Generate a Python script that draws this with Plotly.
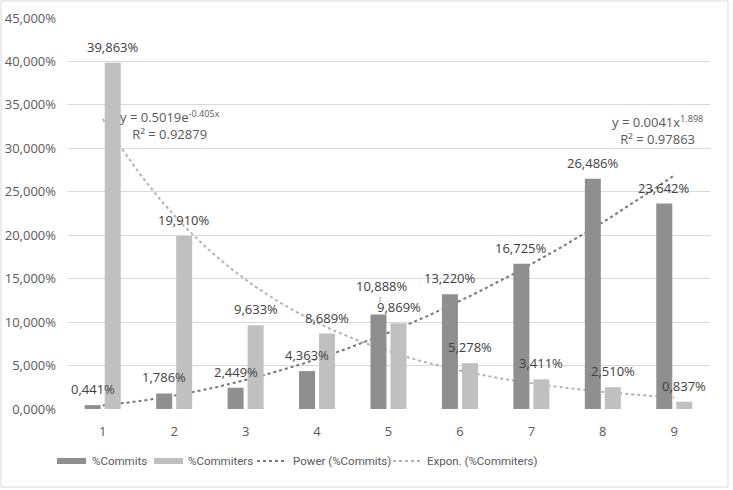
import numpy as np
import plotly.graph_objects as go

# ---------------- data ----------------
categories = [1, 2, 3, 4, 5, 6, 7, 8, 9]
commits = [0.441, 1.786, 2.449, 4.363, 10.888, 13.220, 16.725, 26.486, 23.642]
commiters = [39.863, 19.910, 9.633, 8.689, 9.869, 5.278, 3.411, 2.510, 0.837]
series_names = ["%Commits", "%Commiters", "Power (%Commits)", "Expon. (%Commiters)"]
power_eq = "y = 0.0041x<sup>1.898</sup><br>R² = 0.97863"
expon_eq = "y = 0.5019e<sup>-0.405x</sup><br>R² = 0.92879"

# ---------------- styles ----------------
DARK = "#8f8f8f"
LIGHT = "#c0c0c0"
POWER_C = "#767676"
EXPON_C = "#b3b3b3"
TXT = "#404040"
AX_TXT = "#595959"
GRID = "#d9d9d9"
FONT = "Open Sans"
LEG_FONT = "Roboto"
BARGAP = 0.44
BARGROUPGAP = 0.2

# trendlines fitted from the data (as the spreadsheet does)
x = np.array(categories, dtype=float)
pb, pa = np.polyfit(np.log(x), np.log(np.array(commits) / 100), 1)
ek, ea = np.polyfit(x, np.log(np.array(commiters) / 100), 1)
xs = np.linspace(x.min(), x.max(), 200)
power_curve = np.exp(pa) * xs ** pb * 100
expon_curve = np.exp(ea) * np.exp(ek * xs) * 100

fig = go.Figure()
fig.add_trace(go.Scatter(x=xs, y=power_curve, mode="lines", name=series_names[2],
                         line=dict(color=POWER_C, width=2, dash="dot"), zorder=0))
fig.add_trace(go.Scatter(x=xs, y=expon_curve, mode="lines", name=series_names[3],
                         line=dict(color=EXPON_C, width=2, dash="dot"), zorder=0))
fig.add_trace(go.Bar(x=categories, y=commits, name=series_names[0],
                     marker=dict(color=DARK, line=dict(width=0)), zorder=1))
fig.add_trace(go.Bar(x=categories, y=commiters, name=series_names[1],
                     marker=dict(color=LIGHT, line=dict(width=0)), zorder=1))

def fmt(v):
    return f"{v:.3f}".replace(".", ",") + "%"

off = (1 - BARGAP) / 4
annotations = []
for c, v in zip(categories, commits):
    if c == 5:
        annotations.append(dict(x=c - off, y=v, xref="x", yref="y", text=fmt(v),
                                showarrow=True, arrowhead=0, arrowwidth=1,
                                arrowcolor="#a6a6a6", ax=3, ay=-28, standoff=12,
                                font=dict(family=FONT, size=13, color=TXT)))
    else:
        annotations.append(dict(x=c - off, y=v, xref="x", yref="y", text=fmt(v),
                                showarrow=False, yanchor="middle", yshift=16,
                                font=dict(family=FONT, size=13, color=TXT)))
for c, v in zip(categories, commiters):
    annotations.append(dict(x=c + off, y=v, xref="x", yref="y", text=fmt(v),
                            showarrow=False, yanchor="middle", yshift=16,
                            font=dict(family=FONT, size=13, color=TXT)))

# trendline equations
annotations.append(dict(x=0.1602, y=0.7263, xref="paper", yref="paper", text=expon_eq,
                        showarrow=False, align="center", xanchor="center", yanchor="middle",
                        font=dict(family=FONT, size=13, color=AX_TXT)))
annotations.append(dict(x=0.9191, y=0.7148, xref="paper", yref="paper", text=power_eq,
                        showarrow=False, align="center", xanchor="center", yanchor="middle",
                        font=dict(family=FONT, size=13, color=AX_TXT)))

# ---------------- manual legend ----------------
L, PW, T, PH = 67, 643, 18, 391
def px(xp):
    return (xp - L) / PW
def py(yp):
    return (T + PH - yp) / PH

leg_y = 461
shapes = []
shapes.append(dict(type="rect", xref="paper", yref="paper", x0=px(57), x1=px(86),
                   y0=py(leg_y + 3), y1=py(leg_y - 3), fillcolor=DARK, line=dict(width=0)))
shapes.append(dict(type="rect", xref="paper", yref="paper", x0=px(154), x1=px(183),
                   y0=py(leg_y + 3), y1=py(leg_y - 3), fillcolor=LIGHT, line=dict(width=0)))
shapes.append(dict(type="line", xref="paper", yref="paper", x0=px(257), x1=px(285),
                   y0=py(leg_y), y1=py(leg_y), line=dict(color=POWER_C, width=2, dash="dot")))
shapes.append(dict(type="line", xref="paper", yref="paper", x0=px(393), x1=px(421),
                   y0=py(leg_y), y1=py(leg_y), line=dict(color=EXPON_C, width=2, dash="dot")))
for name, xt in zip(series_names, [90, 186, 291, 425]):
    annotations.append(dict(x=px(xt), y=py(leg_y), xref="paper", yref="paper", text=name,
                            showarrow=False, xanchor="left", yanchor="middle",
                            font=dict(family=LEG_FONT, size=11.5, color=AX_TXT)))

# chart-area border
shapes.append(dict(type="rect", xref="paper", yref="paper", x0=px(1), x1=px(728),
                   y0=py(487), y1=py(1), line=dict(color=GRID, width=1), fillcolor="rgba(0,0,0,0)",
                   layer="below"))

fig.update_layout(
    width=733, height=490,
    margin=dict(l=67, r=23, t=18, b=81, autoexpand=False),
    paper_bgcolor="white", plot_bgcolor="white",
    barmode="group", bargap=BARGAP, bargroupgap=BARGROUPGAP,
    separators=",.",
    showlegend=False,
    hovermode=False,
    font=dict(family=FONT, size=13, color=AX_TXT),
    annotations=annotations, shapes=shapes,
    xaxis=dict(range=[0.5, 9.5], tickvals=categories, ticktext=[str(c) for c in categories],
               showgrid=False, zeroline=False, showline=True, linecolor=GRID, linewidth=1,
               automargin=False,
               ticks="", ticklabelstandoff=10, tickfont=dict(family=FONT, size=13, color=AX_TXT)),
    yaxis=dict(range=[0, 45], dtick=5, tickformat=".3f", ticksuffix="%",
               showgrid=True, gridcolor=GRID, gridwidth=1, zeroline=False, showline=False,
               automargin=False,
               ticks="", ticklabelstandoff=10, tickfont=dict(family=FONT, size=13, color=AX_TXT)),
)

fig.write_html("out.html", config={"displayModeBar": False},
               post_script="document.body.style.margin='0';document.body.style.padding='0';")
